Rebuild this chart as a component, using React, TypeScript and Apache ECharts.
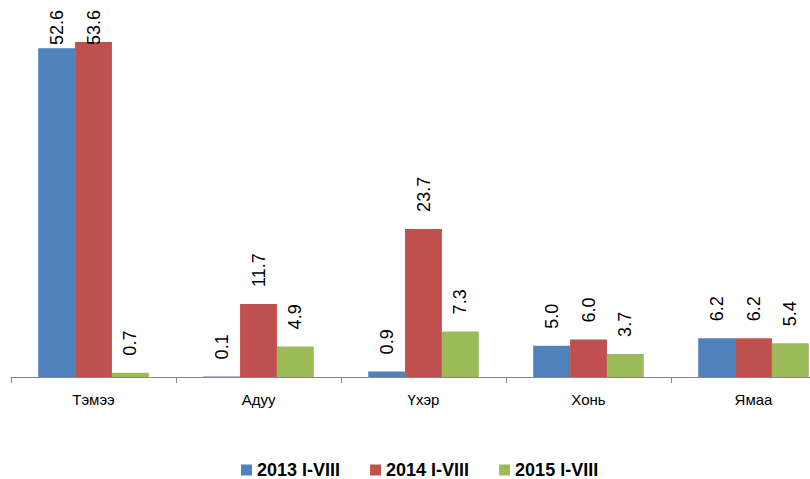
import React, { useEffect, useRef } from "react";
import * as echarts from "echarts";

const categories = ["Тэмээ", "Адуу", "Үхэр", "Хонь", "Ямаа"];
const seriesNames = ["2013 I-VIII", "2014 I-VIII", "2015 I-VIII"];
const values2013 = [52.6, 0.1, 0.9, 5.0, 6.2];
const values2014 = [53.6, 11.7, 23.7, 6.0, 6.2];
const values2015 = [0.7, 4.9, 7.3, 3.7, 5.4];
const colors = ["#4F81BD", "#C0504D", "#9BBB59"];

const FONT = "'Liberation Sans', Arial, sans-serif";
const W = 810;
const CHART_W = 836;
const H = 479;
const GRID_TOP = 2;
const GRID_BOTTOM = 102;
const Y_MAX = 60;

export default function App() {
  const ref = useRef<HTMLDivElement>(null);
  useEffect(() => {
    if (!ref.current) return;
    const chart = echarts.init(ref.current, null, { renderer: "svg" });
    const plotH = H - GRID_TOP - GRID_BOTTOM;
    const axisY = H - GRID_BOTTOM;
    const pxPer = plotH / Y_MAX;
    const makeData = (vals: number[]) =>
      vals.map((v) => {
        const barTop = axisY - v * pxPer;
        const anchor = Math.max(barTop - 17, 45);
        return {
          value: v,
          label: { distance: barTop - anchor },
        };
      });
    const all = [values2013, values2014, values2015];
    chart.setOption({
      animation: false,
      textStyle: { fontFamily: FONT },
      grid: { left: 11, right: 0, top: GRID_TOP, bottom: GRID_BOTTOM, containLabel: false },
      legend: {
        left: 236,
        top: 456,
        itemWidth: 11,
        itemHeight: 11,
        itemGap: 30,
        icon: "rect",
        textStyle: { fontFamily: FONT, fontSize: 18, fontWeight: "bold", color: "#000" },
        data: seriesNames,
      },
      xAxis: {
        type: "category",
        data: categories,
        axisLine: { lineStyle: { color: "#868686", width: 1 } },
        axisTick: { show: true, length: 6, lineStyle: { color: "#868686" } },
        axisLabel: { fontFamily: FONT, fontSize: 15, color: "#000", margin: 15 },
      },
      yAxis: {
        type: "value",
        min: 0,
        max: Y_MAX,
        show: false,
        splitLine: { show: false },
      },
      series: all.map((vals, i) => ({
        name: seriesNames[i],
        type: "bar",
        data: makeData(vals),
        barGap: "0%",
        barCategoryGap: "33%",
        itemStyle: { color: colors[i] },
        label: {
          show: true,
          position: "top",
          rotate: 90,
          align: "left",
          verticalAlign: "middle",
          fontFamily: FONT,
          fontSize: 18,
          color: "#000",
          formatter: (p: any) => Number(p.value).toFixed(1),
        },
      })),
    });
    return () => chart.dispose();
  }, []);
  return (
    <div
      style={{
        position: "fixed",
        left: 0,
        top: 0,
        width: W,
        height: H,
        overflow: "hidden",
        background: "#fff",
      }}
    >
      <div ref={ref} style={{ width: CHART_W, height: H }} />
    </div>
  );
}
